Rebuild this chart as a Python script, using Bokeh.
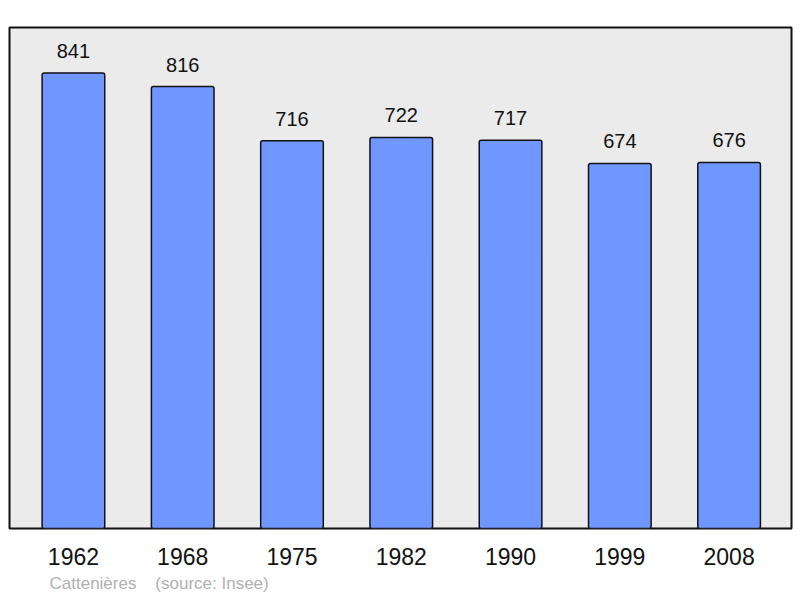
from bokeh.plotting import figure
from bokeh.models import Range1d, FixedTicker, Title, ColumnDataSource
from bokeh.core.properties import value
from bokeh.embed import file_html
from bokeh.resources import INLINE

years = ["1962", "1968", "1975", "1982", "1990", "1999", "2008"]
population = [841, 816, 716, 722, 717, 674, 676]
commune = "Cattenières"
source = "(source: Insee)"

xs = list(range(len(years)))
src = ColumnDataSource(dict(x=xs, top=population, lbl=[str(v) for v in population]))

p = figure(width=800, height=598, frame_width=782, frame_height=501,
           min_border_left=9, min_border_right=9, min_border_top=27, min_border_bottom=70,
           x_range=Range1d(-0.585, 6.571), y_range=Range1d(0, max(population) * 1.1),
           output_backend="svg", toolbar_location=None, tools="")

p.background_fill_color = "#ebebeb"
p.border_fill_color = "white"
p.outline_line_color = "#111111"
p.outline_line_width = 2
p.grid.visible = False
p.yaxis.visible = False

p.vbar(x="x", top="top", bottom=0, width=0.573, source=src,
       fill_color="#7096ff", line_color="#111111", line_width=1.5, border_radius=2)

p.text(x="x", y="top", text="lbl", source=src, y_offset=-15,
       text_align="center", text_baseline="bottom",
       text_font=value("Liberation Sans"), text_font_size="20px", text_color="#111111")

ax = p.xaxis[0]
ax.ticker = FixedTicker(ticks=xs)
ax.major_label_overrides = {i: y for i, y in enumerate(years)}
ax.axis_line_color = None
ax.major_tick_line_color = None
ax.minor_tick_line_color = None
ax.major_label_standoff = 13
ax.major_label_text_font = "Liberation Sans"
ax.major_label_text_font_size = "23px"
ax.major_label_text_color = "#111111"

footer = Title(text=commune + "\u00a0\u00a0\u00a0\u00a0" + source, align="left", offset=40,
               standoff=9, text_font="Liberation Sans", text_font_size="17px",
               text_font_style="normal", text_color="#b0b0b0")
p.add_layout(footer, "below")

open("out.html", "w").write(file_html(p, INLINE))
